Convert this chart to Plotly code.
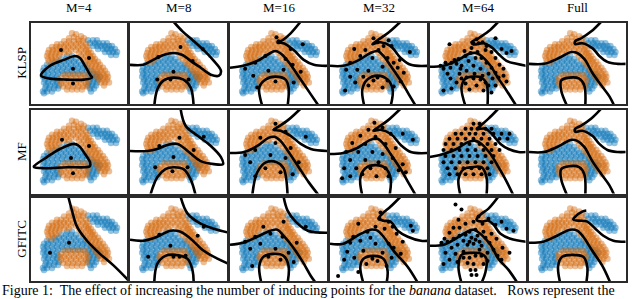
import plotly.graph_objects as go

# ---------------- labels ----------------
COLUMN_TITLES = ["M=4", "M=8", "M=16", "M=32", "M=64", "Full"]
ROW_TITLES = ["KLSP", "MF", "GFITC"]
CAPTION = ("Figure 1:\u00a0 The effect of increasing the number of inducing points for the "
           "<i>banana</i> dataset.\u00a0\u00a0 Rows represent the")

# ---------------- banana data (panel units, y measured downward) ----------------
ORANGE_TOP = [(41, 11), (45, 12), (50, 14), (43, 15), (47, 17), (53, 16), (38, 16)]
ORANGE_ROWS = {
    19: [33, 38, 43, 48, 52],
    22: [26, 30, 35, 40, 45, 50, 55],
    25: [21, 25, 29, 33, 37, 42, 47, 52, 56],
    28: [18, 22, 26, 30, 35, 40, 45, 50, 55, 58],
    31: [17, 21, 25, 29, 33, 38, 48, 53, 57, 60],
    34: [16, 20, 24, 28, 50, 55, 59, 62],
    37: [17, 21, 25, 52, 57, 61, 64],
    40: [18, 22, 55, 59, 63, 67],
    43: [57, 61, 65, 69],
    46: [60, 64, 68, 72],
    49: [62, 66, 70, 74],
    52: [64, 68, 72, 76],
    55: [66, 70, 74, 77],
    58: [68, 72, 76],
    61: [70, 74, 78],
    64: [73],
}
ORANGE_BOTTOM_ROWS = {
    53: [34, 39, 44, 49, 54],
    56: [30, 35, 40, 45, 50, 55],
    59: [29, 33, 38, 43, 48, 53, 57],
    62: [30, 35, 40, 45, 50, 55],
    65: [32, 37, 42, 47, 52, 56],
    68: [36, 41, 46, 51],
}
BLUE_ARM_ROWS = {
    18: [57, 62, 66],
    21: [59, 64, 68, 72, 76],
    24: [62, 66, 70, 74, 78, 81],
    27: [67, 72, 76, 80, 84],
    30: [74, 78, 82, 86],
    33: [80, 85],
}
BLUE_MAIN_ROWS = {
    34: [36, 41],
    37: [30, 35, 40, 45],
    40: [24, 28, 33, 38, 43, 48],
    43: [16, 20, 25, 30, 35, 40, 45, 50, 54],
    46: [13, 17, 22, 27, 32, 37, 42, 47, 52, 56],
    49: [12, 16, 21, 26, 31, 36, 41, 46, 51, 56, 60],
    52: [13, 17, 22, 27, 32, 37, 42, 47, 52, 58, 62, 66],
    55: [12, 16, 21, 26, 57, 61, 65, 69],
    58: [14, 18, 23, 27, 59, 63, 67],
    61: [13, 17, 22, 26, 58, 62, 66],
    64: [15, 19, 24, 28, 57, 61, 65],
    67: [14, 18, 23, 27, 59, 63],
    70: [12, 16, 21, 60],
    72: [13],
}

# ---------------- decision boundaries per panel ----------------
KLSP_M4 = [[(10, 54), (19, 44), (33, 38), (44, 34), (49, 36), (54, 44), (59, 53), (61, 56),
            (53, 58), (36, 58), (19, 57), (10, 54)]]
KLSP_M8 = [[(0, 43), (13, 43), (23, 38), (33, 33), (43, 31), (52, 33), (60, 39), (70, 46), (80, 53),
            (88, 54), (90, 49), (83, 39), (73, 28), (62, 18), (52, 9), (43, -1)],
           [(24, 85), (27, 68), (33, 59), (43, 56), (53, 58), (60, 66), (63, 85)]]
KLSP_M16 = [[(70, -1), (60, 11), (52, 18), (47, 20.5), (53, 21), (63, 28), (73, 38), (83, 43), (97, 44)],
            [(0, 46), (13, 44), (27, 39), (40, 31), (45, 29), (52, 33), (60, 43), (70, 58), (80, 73), (88, 85)],
            [(32, 85), (29, 66), (35, 58), (45, 55), (55, 58), (58, 66), (57, 85)]]
KLSP_M32 = [[(70, -1), (57, 11), (47, 18), (42, 22), (50, 20), (60, 24), (70, 36), (80, 43), (97, 44)],
            [(0, 44), (13, 44), (27, 39), (40, 31), (47, 29), (53, 34), (60, 44), (70, 59), (78, 73), (85, 85)],
            [(34, 85), (32, 68), (37, 58), (47, 54), (57, 58), (62, 68), (60, 85)]]
KLSP_M64 = [[(69, -1), (59, 9), (49, 16), (42, 20), (44, 22.3), (54, 21), (62, 25), (69, 32), (77, 39),
             (87, 42), (97, 44)],
            [(0, 45), (14, 44), (27, 39), (39, 32), (46, 31), (52, 34), (61, 44), (69, 57), (77, 69), (87, 85)],
            [(36, 85), (32, 66), (36, 57), (44, 55), (52, 56), (57, 62), (58, 85)]]
KLSP_FULL = [[(72, -1), (62, 9), (52, 16), (46, 19), (46, 22), (53, 21), (63, 26), (70, 34), (78, 40),
              (88, 42), (97, 42)],
             [(0, 42), (15, 42), (28, 37), (42, 30), (48, 31), (55, 37), (63, 51), (72, 64), (80, 75), (85, 85)],
             [(38, 85), (32, 69), (32, 59), (40, 56), (50, 57), (55, 64), (56, 85)]]

MF_M4 = [[(3, 56), (16, 47), (29, 39), (43, 34), (48, 36), (54, 44), (59, 52), (59, 56), (54, 57),
          (36, 57), (13, 58), (3, 57), (3, 56)]]
MF_M8 = [[(50, -1), (55, 16), (67, 26), (80, 36), (90, 47), (92, 54), (83, 54), (70, 51), (57, 41),
          (47, 34), (37, 35), (27, 39), (17, 41), (0, 41)],
         [(20, 85), (27, 67), (35, 59), (43, 57), (53, 59), (60, 69), (65, 85)]]
MF_M16 = [[(70, -1), (58, 10), (48, 17), (43, 20), (50, 21), (60, 26), (70, 34), (80, 39), (97, 41)],
          [(0, 43), (14, 42), (27, 36), (38, 28), (44, 27), (50, 31), (58, 42), (68, 57), (78, 72), (88, 85)],
          [(22, 85), (27, 62), (36, 52), (46, 52), (53, 58), (57, 85)]]
MF_M32 = [[(70, -1), (57, 11), (47, 18), (43, 21), (50, 20), (60, 24), (70, 35), (80, 42), (97, 43)],
          [(0, 44), (13, 43), (27, 38), (40, 30), (47, 29), (53, 34), (60, 44), (70, 59), (78, 73), (85, 85)],
          [(32, 85), (30, 68), (35, 58), (45, 55), (55, 58), (60, 68), (59, 85)]]
MF_M64 = [[(69, -1), (59, 9), (51, 16), (48, 19), (56, 19), (64, 26), (71, 34), (79, 39), (89, 42), (97, 42)],
          [(0, 47), (14, 44), (27, 39), (39, 32), (46, 31), (52, 34), (61, 44), (69, 57), (77, 71), (84, 85)],
          [(31, 85), (29, 69), (34, 59), (42, 57), (52, 57), (57, 67), (57, 85)]]
MF_FULL = [[(72, -1), (62, 9), (52, 16), (46, 19), (46, 22), (53, 21), (63, 26), (70, 34), (78, 40),
            (88, 42), (97, 42)],
           [(0, 42), (15, 42), (28, 37), (42, 30), (48, 31), (55, 37), (63, 51), (72, 64), (80, 75), (85, 85)],
           [(38, 85), (32, 69), (32, 59), (40, 56), (50, 57), (55, 64), (56, 85)]]

GFITC_M4 = [[(37, -2), (41, 13), (46, 29), (56, 43), (69, 56), (83, 68), (97, 82)]]
GFITC_M8 = [[(50, -1), (57, 16), (70, 26), (83, 31), (98, 35)],
            [(0, 42), (13, 43), (27, 39), (40, 33), (50, 34), (60, 41), (73, 53), (87, 61), (98, 66)],
            [(24, 85), (27, 66), (35, 58), (45, 57), (57, 61), (62, 73), (63, 85)]]
GFITC_M16 = [[(53, -1), (57, 13), (65, 24), (77, 33), (97, 35)],
             [(0, 47), (13, 45), (27, 39), (40, 33), (47, 32), (53, 38), (62, 49), (72, 64), (80, 78), (85, 85)],
             [(31, 85), (29, 68), (33, 59), (43, 56), (53, 58), (58, 68), (57, 85)]]
GFITC_M32 = [[(70, -1), (60, 9), (52, 16), (48, 21), (53, 23), (60, 24), (67, 33), (77, 39), (90, 43), (97, 43)],
             [(0, 46), (13, 46), (27, 38), (40, 32), (47, 33), (53, 39), (63, 53), (77, 69), (87, 85)],
             [(33, 85), (30, 69), (33, 61), (43, 58), (53, 61), (57, 73), (56, 85)]]
GFITC_M64 = [[(69, -1), (59, 11), (51, 17), (47, 22), (52, 24), (59, 23), (64, 27), (71, 36), (81, 41), (97, 44)],
             [(0, 48), (14, 47), (26, 41), (36, 35), (44, 32), (52, 37), (61, 47), (69, 61), (79, 72), (88, 85)],
             [(32, 85), (29, 69), (32, 57), (42, 55), (52, 56), (57, 61), (56, 74), (52, 85)]]
GFITC_FULL = [[(57, 13), (53, 14), (46, 19), (44, 22), (49, 23), (58, 24), (66, 31), (74, 38), (84, 43), (97, 44)],
              [(0, 45), (14, 44), (28, 38), (41, 32), (48, 33), (54, 39), (63, 53), (73, 68), (81, 85)],
              [(31, 85), (29, 68), (33, 59), (43, 57), (54, 59), (58, 69), (57, 85)]]

# ---------------- inducing points per panel ----------------
KLSP_Z4 = [(30, 28), (58, 36), (42, 47), (42, 62)]
KLSP_Z8 = [(50, 25), (72, 27), (28, 35), (62, 39), (43, 50), (27, 58), (58, 58), (40, 58)]
KLSP_Z16 = [(46, 15), (48, 19), (60, 27), (55, 37), (35, 34), (25, 41), (23, 54), (38, 49), (53, 48),
            (62, 43), (27, 66), (45, 60), (63, 61), (72, 22), (15, 47), (70, 50)]
KLSP_Z32 = [(43, 16), (47, 20), (53, 24), (61, 24), (79, 30), (20, 41), (30, 34), (42, 36), (48, 28),
            (57, 36), (63, 41), (67, 46), (27, 48), (38, 49), (47, 56), (43, 59), (57, 59), (25, 61),
            (15, 69), (63, 65), (73, 51), (35, 28), (24, 27), (52, 45), (33, 55), (20, 55), (69, 38),
            (58, 18), (70, 60), (38, 64), (52, 66), (16, 48)]
KLSP_Z64 = [(20, 22), (47, 17), (49, 21), (66, 16), (72, 27), (56, 28), (62, 30), (41, 31), (36, 34),
            (29, 37), (22, 41), (16, 41), (14, 47), (21, 46), (27, 42), (46, 36), (52, 36), (57, 41),
            (62, 46), (66, 51), (69, 56), (74, 54), (59, 52), (51, 47), (37, 49), (31, 47), (21, 57),
            (27, 61), (32, 57), (37, 56), (44, 57), (51, 58), (56, 61), (36, 62), (47, 64), (59, 64),
            (14, 69), (22, 67), (66, 64), (62, 71), (39, 39), (74, 47), (77, 31), (82, 29), (57, 24),
            (42, 26), (44, 21), (53, 20), (35, 29), (25, 38), (11, 44), (18, 52), (44, 44), (66, 36),
            (70, 43), (77, 60), (45, 52), (53, 54), (30, 52), (40, 68), (54, 69), (63, 57), (32, 44),
            (48, 30)]

MF_Z4 = [(31, 30), (58, 36), (40, 48), (42, 63)]
MF_Z8 = [(49, 28), (73, 27), (29, 36), (63, 40), (43, 47), (25, 57), (57, 57), (42, 61)]
MF_Z16 = [(45, 14), (55, 22), (75, 27), (30, 28), (45, 33), (25, 40), (60, 38), (40, 45), (55, 48),
          (20, 52), (68, 52), (35, 58), (50, 62), (25, 66), (62, 64), (15, 45)]
MF_Z32 = [(44, 13), (52, 18), (38, 20), (60, 24), (72, 24), (82, 30), (30, 26), (45, 27), (22, 33),
          (35, 34), (55, 34), (65, 38), (16, 42), (28, 42), (42, 42), (52, 44), (62, 48), (72, 54),
          (20, 50), (35, 50), (48, 52), (14, 58), (26, 58), (40, 58), (55, 58), (68, 60), (32, 64),
          (46, 66), (58, 66), (20, 66), (75, 62), (12, 68)]
MF_Z64_ROWS = {
    14: [44, 50],
    19: [36, 42, 48, 56, 62],
    24: [26, 32, 40, 46, 54, 64, 72, 80],
    29: [20, 28, 36, 44, 52, 60, 70, 78],
    34: [16, 24, 32, 40, 50, 58, 66],
    40: [14, 22, 30, 38, 46, 54, 62, 70],
    46: [16, 24, 32, 40, 48, 56, 64],
    52: [14, 22, 30, 38, 46, 54, 62],
    58: [18, 26, 34, 42, 50, 58],
    64: [20, 28, 36, 44, 52, 60],
}

GFITC_Z4 = [(38, 45), (19, 55)]
GFITC_Z8 = [(73, 29), (29, 37), (67, 38), (40, 48), (18, 59), (43, 59), (55, 58), (49, 59)]
GFITC_Z16 = [(33, 29), (53, 24), (75, 29), (25, 39), (52, 39), (20, 51), (45, 51), (58, 55), (22, 68),
             (38, 59), (63, 64), (40, 36), (30, 46), (66, 45), (50, 62), (15, 44)]
GFITC_Z32 = [(50, 15), (28, 26), (49, 21), (58, 24), (80, 28), (82, 33), (23, 39), (37, 34), (45, 46),
             (58, 46), (63, 50), (17, 54), (33, 53), (42, 61), (47, 63), (8, 78), (28, 74), (20, 45),
             (54, 31), (66, 36), (30, 43), (40, 40), (52, 55), (61, 60), (24, 60), (14, 62), (36, 66),
             (56, 68), (70, 56), (45, 29), (62, 29), (72, 44)]
GFITC_Z64 = [(26, 7), (32, 12), (29, 22), (49, 19), (59, 21), (66, 27), (77, 31), (72, 24), (84, 33),
             (53, 26), (44, 24), (36, 26), (24, 30), (20, 35), (15, 41), (12, 45), (18, 44), (24, 41),
             (30, 38), (36, 37), (40, 34), (46, 32), (42, 40), (46, 42), (48, 38), (44, 46), (40, 44),
             (50, 44), (52, 48), (38, 47), (34, 43), (28, 47), (22, 50), (16, 55), (26, 56), (34, 54),
             (56, 40), (60, 45), (64, 52), (68, 58), (72, 62), (58, 55), (52, 58), (46, 58), (40, 60),
             (34, 60), (58, 63), (54, 66), (44, 66), (38, 65), (41, 72), (46, 72), (42, 77), (47, 77),
             (20, 62), (14, 66), (62, 36), (67, 41), (73, 50), (80, 55), (30, 30), (54, 34), (28, 64),
             (50, 52)]


def rows_to_pts(rows):
    return [(x, y) for y, xs in rows.items() for x in xs]


ORANGE_PTS = ORANGE_TOP + rows_to_pts(ORANGE_ROWS) + rows_to_pts(ORANGE_BOTTOM_ROWS)
BLUE_PTS = rows_to_pts(BLUE_ARM_ROWS) + rows_to_pts(BLUE_MAIN_ROWS)
MF_Z64 = rows_to_pts(MF_Z64_ROWS)

CURVES = [
    [KLSP_M4, KLSP_M8, KLSP_M16, KLSP_M32, KLSP_M64, KLSP_FULL],
    [MF_M4, MF_M8, MF_M16, MF_M32, MF_M64, MF_FULL],
    [GFITC_M4, GFITC_M8, GFITC_M16, GFITC_M32, GFITC_M64, GFITC_FULL],
]
INDUCING = [
    [KLSP_Z4, KLSP_Z8, KLSP_Z16, KLSP_Z32, KLSP_Z64, []],
    [MF_Z4, MF_Z8, MF_Z16, MF_Z32, MF_Z64, []],
    [GFITC_Z4, GFITC_Z8, GFITC_Z16, GFITC_Z32, GFITC_Z64, []],
]

# ---------------- layout geometry (pixels) ----------------
W, H = 640, 299
COL_PX = [(31, 127), (130, 227), (230, 327), (330, 427), (429.5, 525.5), (529, 625.5)]
ROW_PX = [(22.5, 104.2), (109.5, 193.5), (197.5, 281)]

BLUE = "rgba(0,112,180,0.42)"
ORANGE = "rgba(210,100,5,0.42)"
SERIF = "Liberation Serif"

fig = go.Figure()
layout = dict(
    width=W, height=H, margin=dict(l=0, r=0, t=0, b=0),
    paper_bgcolor="white", plot_bgcolor="white", showlegend=False,
)

idx = 0
for r in range(3):
    for c in range(6):
        idx += 1
        xa = "x" if idx == 1 else f"x{idx}"
        ya = "y" if idx == 1 else f"y{idx}"
        x0, x1 = COL_PX[c]
        t0, t1 = ROW_PX[r]
        axis_common = dict(showgrid=False, zeroline=False, showticklabels=False, ticks="",
                           showline=True, mirror=True, linecolor="#2a2a2a", linewidth=1.5,
                           fixedrange=True)
        layout["xaxis" if idx == 1 else f"xaxis{idx}"] = dict(
            domain=[x0 / W, x1 / W], range=[0, 96], anchor=ya, **axis_common)
        layout["yaxis" if idx == 1 else f"yaxis{idx}"] = dict(
            domain=[1 - t1 / H, 1 - t0 / H], range=[83, 0], anchor=xa, **axis_common)

        fig.add_trace(go.Scatter(
            x=[p[0] for p in BLUE_PTS], y=[p[1] for p in BLUE_PTS], mode="markers",
            marker=dict(size=6.5, color=BLUE, line=dict(width=0)), xaxis=xa, yaxis=ya,
            hoverinfo="skip"))
        fig.add_trace(go.Scatter(
            x=[p[0] for p in ORANGE_PTS], y=[p[1] for p in ORANGE_PTS], mode="markers",
            marker=dict(size=6.5, color=ORANGE, line=dict(width=0)), xaxis=xa, yaxis=ya,
            hoverinfo="skip"))
        for curve in CURVES[r][c]:
            fig.add_trace(go.Scatter(
                x=[p[0] for p in curve], y=[p[1] for p in curve], mode="lines",
                line=dict(color="black", width=2.6, shape="spline", smoothing=1.0),
                xaxis=xa, yaxis=ya, hoverinfo="skip"))
        z = INDUCING[r][c]
        if z:
            fig.add_trace(go.Scatter(
                x=[p[0] for p in z], y=[p[1] for p in z], mode="markers",
                marker=dict(size=4, color="black"), xaxis=xa, yaxis=ya, hoverinfo="skip"))

annotations = []
for c, title in enumerate(COLUMN_TITLES):
    x0, x1 = COL_PX[c]
    annotations.append(dict(text=title, x=(x0 + x1) / 2 / W, y=1 - 7.5 / H, xref="paper", yref="paper",
                            showarrow=False, xanchor="center", yanchor="middle",
                            font=dict(family=SERIF, size=13, color="black")))
for r, title in enumerate(ROW_TITLES):
    t0, t1 = ROW_PX[r]
    annotations.append(dict(text=title, x=21.5 / W, y=1 - (t0 + t1) / 2 / H, xref="paper", yref="paper",
                            showarrow=False, xanchor="center", yanchor="middle", textangle=-90,
                            font=dict(family=SERIF, size=13, color="black")))
annotations.append(dict(text=CAPTION, x=0.5 / W, y=1 - 290.5 / H, xref="paper", yref="paper",
                        showarrow=False, xanchor="left", yanchor="middle", borderpad=0,
                        font=dict(family=SERIF, size=14, color="black")))
layout["annotations"] = annotations
fig.update_layout(**layout)
fig.write_html("out.html", config={"displayModeBar": False},
               post_script="document.body.style.margin='0px';document.body.style.overflow='hidden';")
